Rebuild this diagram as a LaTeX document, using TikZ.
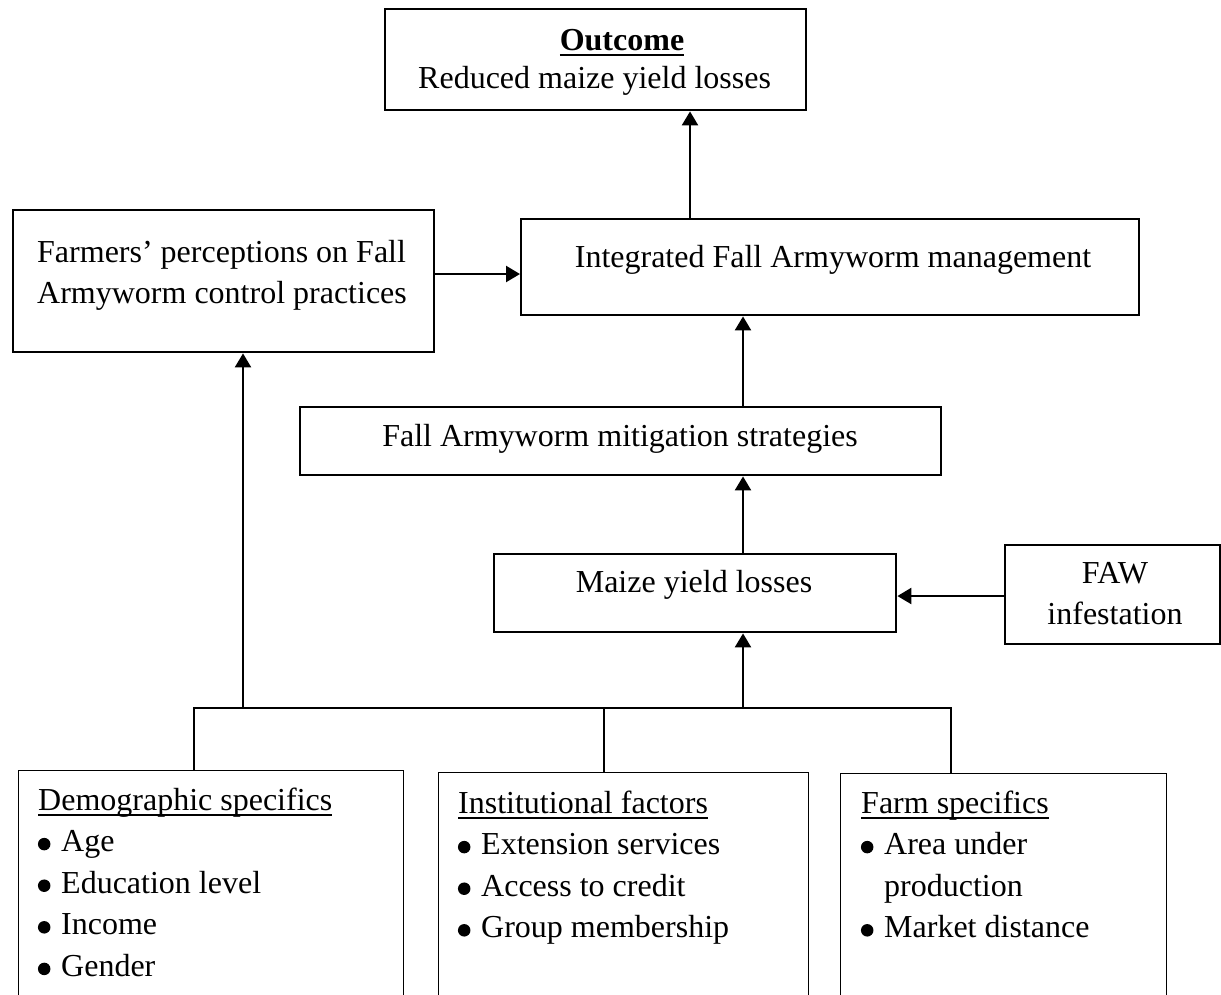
\documentclass[tikz,border=0pt]{standalone}
\usepackage{fontspec}
\usepackage{pict2e}
\setmainfont{Liberation Serif}
\usetikzlibrary{arrows.meta}
\newcommand\wul[1]{\setbox0\hbox{#1}\rlap{\rule[-5.8pt]{\wd0}{1.6pt}}\box0}
\newcommand\wulb[1]{\setbox0\hbox{#1}\rlap{\rule[-6.2pt]{\wd0}{2.6pt}}\box0}
\newcommand\bul{\makebox[23pt][l]{\setlength\unitlength{1pt}\begin{picture}(12,0)\put(6,7.5){\circle*{12.5}}\end{picture}}}
\begin{document}
\begin{tikzpicture}[x=1pt,y=-1pt,
  box/.style={draw, line width=2.4pt, inner sep=0pt, anchor=north west},
  thinbox/.style={draw, line width=1.3pt, inner sep=0pt, anchor=north west},
  txt/.style={inner sep=0pt, font=\fontsize{32}{41.6}\selectfont},
  arr/.style={line width=2.4pt, -{Triangle[length=14pt,width=16pt]}},
  tree/.style={line width=1.2pt}]
\useasboundingbox (0,0) rectangle (1221,994);
\clip (0,0) rectangle (1221,994);
\fill[white] (0,0) rectangle (1221,994);

% boxes
\node[box, minimum width=421pt, minimum height=101pt] (outcome) at (384,8) {};
\node[box, minimum width=421pt, minimum height=142pt] (perc) at (12,209) {};
\node[box, minimum width=618pt, minimum height=96pt] (integ) at (520,218) {};
\node[box, minimum width=641pt, minimum height=68pt] (mitig) at (299,406) {};
\node[box, minimum width=402pt, minimum height=78pt] (maize) at (493,553) {};
\node[box, minimum width=215pt, minimum height=99pt] (faw) at (1004,544) {};
\node[thinbox, minimum width=385pt, minimum height=260pt] (demo) at (18,770) {};
\node[thinbox, minimum width=370pt, minimum height=260pt] (inst) at (438,772) {};
\node[thinbox, minimum width=326pt, minimum height=260pt] (farm) at (840,773) {};

% texts
\node[txt, anchor=base] (outt1) at (622,50) {\bfseries\wulb{Outcome}};
\node[txt, anchor=base west] (outt2) at (418,88) {Reduced maize yield losses};
\node[txt, anchor=base west] (perct) at (37,262) {\begin{tabular}[t]{@{}l@{}}Farmers’ perceptions on Fall\\Armyworm control practices\end{tabular}};
\node[txt, anchor=base] (integt) at (833,267) {Integrated Fall Armyworm management};
\node[txt, anchor=base] (mitigt) at (620,446) {Fall Armyworm mitigation strategies};
\node[txt, anchor=base] (maizet) at (694,592) {Maize yield losses};
\node[txt, anchor=base] (fawt) at (1115,583) {\begin{tabular}[t]{@{}c@{}}FAW\\infestation\end{tabular}};
\node[txt, anchor=base west] (demot) at (38,810) {\begin{tabular}[t]{@{}l@{}}\wul{Demographic specifics}\\\bul Age\\\bul Education level\\\bul Income\\\bul Gender\end{tabular}};
\node[txt, anchor=base west] (instt) at (458,813) {\begin{tabular}[t]{@{}l@{}}\wul{Institutional factors}\\\bul Extension services\\\bul Access to credit\\\bul Group membership\end{tabular}};
\node[txt, anchor=base west] (farmt) at (861,813) {\begin{tabular}[t]{@{}l@{}}\wul{Farm specifics}\\\bul Area under\\\hspace*{23pt}production\\\bul Market distance\end{tabular}};

% helper coordinates
\coordinate (xo) at (690,0);
\coordinate (yp) at (0,274);
\coordinate (xm) at (743,0);
\coordinate (yf) at (0,596);
\coordinate (jl) at (194,708);
\coordinate (ja) at (243,708);
\coordinate (jm) at (604,708);
\coordinate (jb) at (743,708);
\coordinate (jr) at (951,708);

% connectors
\draw[arr] (integ.north -| xo) -- (outcome.south -| xo);
\draw[arr] (perc.east |- yp) -- (integ.west |- yp);
\draw[arr] (mitig.north -| xm) -- (integ.south -| xm);
\draw[arr] (maize.north -| xm) -- (mitig.south -| xm);
\draw[arr] (faw.west |- yf) -- (maize.east |- yf);
\draw[tree] (demo.north -| jl) -- (jl) -- (jr) -- (farm.north -| jr);
\draw[tree] (jm) -- (inst.north -| jm);
\draw[arr] (ja) -- (perc.south -| ja);
\draw[arr] (jb) -- (maize.south -| jb);
\end{tikzpicture}
\end{document}
